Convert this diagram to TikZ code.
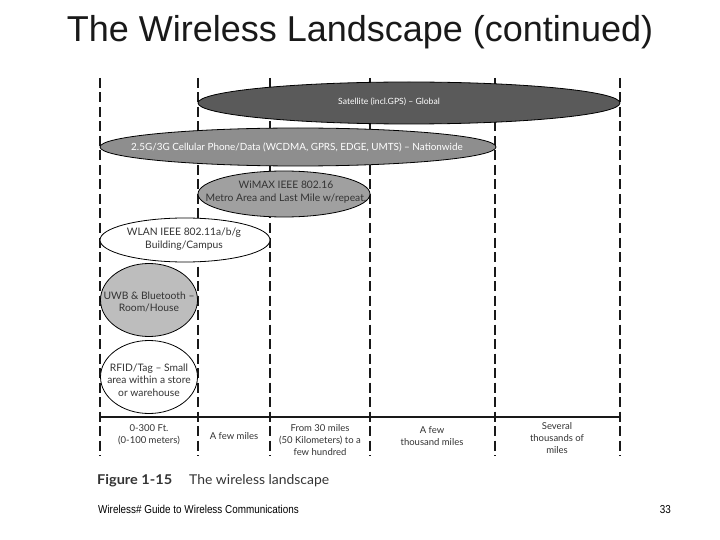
\documentclass[tikz,border=0pt]{standalone}
\usepackage{fontspec}
\setmainfont{Liberation Sans}
\newfontfamily\figfont{Lato}
\newfontfamily\narrowfont[FakeStretch=0.86]{Liberation Sans}
\usetikzlibrary{shapes.geometric}
\definecolor{satgray}{HTML}{5A5A5A}
\definecolor{cellgray}{HTML}{8E8E8E}
\definecolor{wimaxgray}{HTML}{A0A0A0}
\definecolor{uwbgray}{HTML}{BDBDBD}
\definecolor{txtgray}{HTML}{333333}
\begin{document}
\begin{tikzpicture}[x=1pt,y=-1pt,
  band/.style={ellipse, draw=black, line width=0.8pt, inner sep=0pt},
  bandtext/.style={align=center, inner sep=0pt, font=\figfont\fontsize{10.3}{12.5}\selectfont, text=txtgray},
  divider/.style={line width=2.2pt, dash pattern=on 10pt off 4.5pt, black!90},
  axislabel/.style={font=\figfont\fontsize{9.5}{12}\selectfont, align=center, text=txtgray},
  captext/.style={anchor=base west, inner sep=0pt, font=\figfont\fontsize{13.5}{16}\selectfont, text=txtgray},
  foottext/.style={inner sep=0pt, font=\narrowfont\fontsize{11.5}{13}\selectfont}]
\useasboundingbox (0,0) rectangle (720,540);
% title
\node[font=\fontsize{36}{42}\selectfont, text=black!90] (title) at (360,32) {The Wireless Landscape (continued)};
% dashed dividers
\foreach \x/\n in {100/d0,198/d1,270/d2,370/d3,495/d4,620/d5}{
  \coordinate (\n top) at (\x,78);
  \coordinate (\n bot) at (\x,456);
  \draw[divider] (\n top) -- (\n bot);
}
% ellipses
\node[band, fill=satgray, minimum width=422pt, minimum height=42pt] (sat) at (409,103) {};
\node[bandtext, text=white, font=\figfont\fontsize{8.6}{11}\selectfont] (sattext) at (389,102) {Satellite (incl.GPS) – Global};
\node[band, fill=cellgray, minimum width=396pt, minimum height=38pt] (cell) at (298,147) {};
\node[bandtext, text=white, font=\figfont\fontsize{9.9}{12}\selectfont] (celltext) at (297,147) {2.5G/3G Cellular Phone/Data (WCDMA, GPRS, EDGE, UMTS) – Nationwide};
\node[band, fill=wimaxgray, minimum width=172pt, minimum height=46pt] (wimax) at (284,194) {};
\node[bandtext] (wimaxtext) at (286,192) {WiMAX IEEE 802.16\\Metro Area and Last Mile w/repeat.};
\node[band, fill=white, minimum width=170pt, minimum height=44pt] (wlan) at (185,240) {};
\node[bandtext] (wlantext) at (184,239) {WLAN IEEE 802.11a/b/g\\Building/Campus};
\node[band, fill=uwbgray, minimum width=97pt, minimum height=73pt] (uwb) at (149,300) {};
\node[bandtext] (uwbtext) at (149,302) {UWB \& Bluetooth –\\Room/House};
\node[band, fill=white, minimum width=97pt, minimum height=73pt] (rfid) at (149,377) {};
\node[bandtext] (rfidtext) at (149,380) {RFID/Tag – Small\\area within a store\\or warehouse};
% axis
\coordinate (axl) at (100,417);
\coordinate (axr) at (620,417);
\draw[line width=1.6pt, black!90] (axl) -- (axr);
% axis labels
\node[axislabel] (l1) at (149,435) {0-300 Ft.\\(0-100 meters)};
\node[axislabel] (l2) at (234,436) {A few miles};
\node[axislabel] (l3) at (320,440) {From 30 miles\\(50 Kilometers) to a\\few hundred};
\node[axislabel] (l4) at (432,436) {A few\\thousand miles};
\node[axislabel] (l5) at (557,438) {Several\\thousands of\\miles};
% caption
\node[captext] (capnum) at (97,484) {\resizebox{75pt}{\height}{\textbf{Figure 1-15}}};
\node[captext] (captitle) at (189,484) {\resizebox{140pt}{\height}{The wireless landscape}};
% footer
\node[foottext, anchor=base west] (foot) at (98,513) {Wireless\# Guide to Wireless Communications};
\node[foottext, anchor=base east] (page) at (671,513) {33};
\end{tikzpicture}
\end{document}
